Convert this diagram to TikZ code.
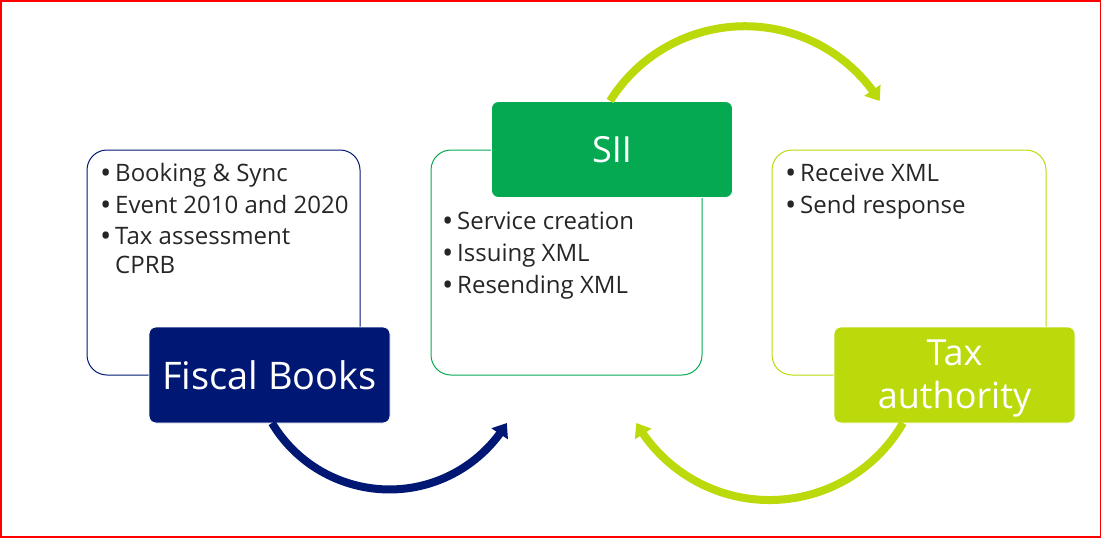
\documentclass[tikz,border=0pt]{standalone}
\usepackage{fontspec}
\setmainfont{Open Sans}
\usetikzlibrary{arrows.meta,bending}
\definecolor{navyc}{RGB}{0,24,116}
\definecolor{greenc}{RGB}{5,169,82}
\definecolor{limec}{RGB}{188,217,11}
\definecolor{txtc}{RGB}{38,38,38}
\tikzset{
  bodybox/.style={draw, line width=1pt, rounded corners=20pt, inner sep=0pt, minimum width=#1},
  labelbox/.style={fill=#1, draw=white, line width=0.8pt, rounded corners=7pt, inner sep=0pt,
     minimum width=241pt, minimum height=96pt, text=white, align=center,
     font=\fontsize{37}{43}\selectfont},
  bodytext/.style={anchor=base west, inner sep=0pt, text=txtc, font=\fontsize{24}{32}\selectfont},
  arrowline/.style={draw=#1, line width=8pt, -{Triangle[width=19pt,length=13pt,flex]}}
}
\newcommand{\bul}{\makebox[15pt][l]{\raisebox{-2pt}{\fontsize{30}{30}\selectfont•}}}
\begin{document}
\begin{tikzpicture}[x=1pt,y=-1pt]
\useasboundingbox (0,0) rectangle (1102,538);
\draw[red, line width=1.6pt] (0.8,0.8) rectangle (1100.6,536.8);

% body boxes
\node[bodybox=273pt, draw=navyc, minimum height=225pt] (fbbox) at (223.5,262.5) {};
\node[bodybox=271pt, draw=greenc, minimum height=225pt] (siibox) at (566.5,262.5) {};
\node[bodybox=274pt, draw=limec, minimum height=225pt] (taxbox) at (909,262.5) {};

% body texts
\node[bodytext] (fb1) at (100,181) {\bul Booking \& Sync};
\node[bodytext] (fb2) at (100,213) {\bul Event 2010 and 2020};
\node[bodytext] (fb3) at (100,244) {\bul Tax assessment};
\node[bodytext] (fb4) at (115,273) {CPRB};

\node[bodytext] (sii1) at (442,229) {\bul Service creation};
\node[bodytext] (sii2) at (442,261) {\bul Issuing XML};
\node[bodytext] (sii3) at (442,293) {\bul Resending XML};

\node[bodytext] (tax1) at (785,181) {\bul Receive XML};
\node[bodytext] (tax2) at (785,213) {\bul Send response};

% label boxes
\node[labelbox=navyc, font=\fontsize{38}{43}\selectfont] (fblabel) at (269.5,375) {Fiscal Books};
\node[labelbox=greenc, font=\fontsize{36}{43}\selectfont] (siilabel) at (612,149.5) {SII};
\node[labelbox=limec, font=\fontsize{36}{43}\selectfont] (taxlabel) at (954.5,375) {\rule{0pt}{33pt}Tax\\authority};

% arrows
\coordinate (a1s) at (610,101);
\coordinate (a2s) at (903,423);
\coordinate (a3s) at (272,423);
\draw[arrowline=limec] (a1s) arc[start angle=-148, end angle=-32, radius=159];
\draw[arrowline=limec] (a2s) arc[start angle=30, end angle=150, radius=154];
\draw[arrowline=navyc] (a3s) arc[start angle=149, end angle=31, radius=137];
\end{tikzpicture}
\end{document}
